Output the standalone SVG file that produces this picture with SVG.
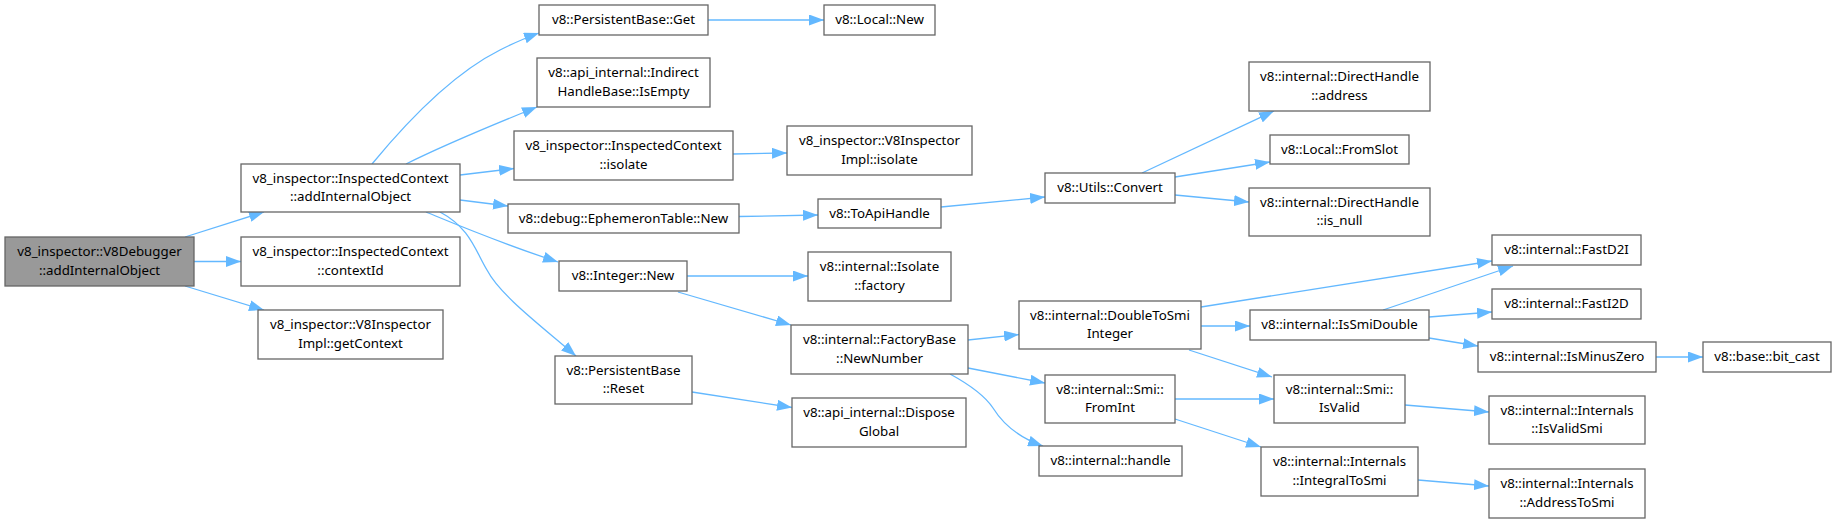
<svg xmlns="http://www.w3.org/2000/svg" width="1836" height="523" viewBox="0 0 1836 523">
<style>
.n rect{fill:#fff;stroke:#666;stroke-width:1.3}
.root rect{fill:#999}
.n text{font-family:"Noto Sans","DejaVu Sans",sans-serif;font-size:13.3px;fill:#000;text-anchor:middle}
.e path{fill:none;stroke:#63b8ff;stroke-width:1.3}
</style>
<defs>
<marker id="ah" markerUnits="userSpaceOnUse" markerWidth="15" markerHeight="11" refX="15" refY="5.5" orient="auto">
<path d="M0,0 L15,5.5 L0,11 z" fill="#63b8ff"/>
</marker>
</defs>
<g id="edges" class="e" marker-end="url(#ah)">
<path d="M185,237 L264,212" marker-end="url(#ah)"/>
<path d="M194,261.5 L241,261.5" marker-end="url(#ah)"/>
<path d="M185,286 L264,310" marker-end="url(#ah)"/>
<path d="M372,164 C400,130 450,75 500,50 C512,44 525,38 539,33" marker-end="url(#ah)"/>
<path d="M406,164 C440,147 490,126 537,107" marker-end="url(#ah)"/>
<path d="M460,175 L514,168.5" marker-end="url(#ah)"/>
<path d="M460,200 L508,206" marker-end="url(#ah)"/>
<path d="M426,212 C460,226 500,243 558,262" marker-end="url(#ah)"/>
<path d="M440,212 C470,228 475,250 487,270 C500,295 540,325 576,356" marker-end="url(#ah)"/>
<path d="M708,20 L824,20" marker-end="url(#ah)"/>
<path d="M733,154 L787,153" marker-end="url(#ah)"/>
<path d="M739,216.5 L818,215" marker-end="url(#ah)"/>
<path d="M687,276 L808,276" marker-end="url(#ah)"/>
<path d="M678,292 L791,325" marker-end="url(#ah)"/>
<path d="M692,392 L792,407.5" marker-end="url(#ah)"/>
<path d="M941,207 L1045,197" marker-end="url(#ah)"/>
<path d="M1142,173 L1274,111" marker-end="url(#ah)"/>
<path d="M1175,177 L1270,162" marker-end="url(#ah)"/>
<path d="M1175,195 L1249,202" marker-end="url(#ah)"/>
<path d="M968,340 L1019,334.5" marker-end="url(#ah)"/>
<path d="M968,368 L1045,383" marker-end="url(#ah)"/>
<path d="M950,374 C972,386 985,396 993,408 C1003,424 1020,438 1043,446" marker-end="url(#ah)"/>
<path d="M1201,307 L1492,261" marker-end="url(#ah)"/>
<path d="M1201,326 L1250,326" marker-end="url(#ah)"/>
<path d="M1189,350 L1272,377" marker-end="url(#ah)"/>
<path d="M1175,399 L1274,399" marker-end="url(#ah)"/>
<path d="M1175,419 L1261,447" marker-end="url(#ah)"/>
<path d="M1383,310 L1513,266" marker-end="url(#ah)"/>
<path d="M1429,317 L1492,312" marker-end="url(#ah)"/>
<path d="M1429,338 L1478,346" marker-end="url(#ah)"/>
<path d="M1656,357 L1703,357" marker-end="url(#ah)"/>
<path d="M1405,405 L1489,412" marker-end="url(#ah)"/>
<path d="M1418,480 L1489,486" marker-end="url(#ah)"/>
</g>
<g id="n0" class="n root"><rect x="5" y="237" width="189" height="49"/><text x="99.5" y="256">v8_inspector::V8Debugger</text><text x="99.5" y="275">::addInternalObject</text></g>
<g id="n1" class="n"><rect x="241" y="164" width="219" height="48"/><text x="350.5" y="183">v8_inspector::InspectedContext</text><text x="350.5" y="201">::addInternalObject</text></g>
<g id="n2" class="n"><rect x="241" y="237" width="219" height="49"/><text x="350.5" y="256">v8_inspector::InspectedContext</text><text x="350.5" y="275">::contextId</text></g>
<g id="n3" class="n"><rect x="258" y="310" width="185" height="49"/><text x="350.5" y="329">v8_inspector::V8Inspector</text><text x="350.5" y="348">Impl::getContext</text></g>
<g id="n4" class="n"><rect x="539" y="5" width="169" height="30"/><text x="623.5" y="24">v8::PersistentBase::Get</text></g>
<g id="n5" class="n"><rect x="824" y="5" width="111" height="30"/><text x="879.5" y="24">v8::Local::New</text></g>
<g id="n6" class="n"><rect x="537" y="58" width="173" height="49"/><text x="623.5" y="77">v8::api_internal::Indirect</text><text x="623.5" y="96">HandleBase::IsEmpty</text></g>
<g id="n7" class="n"><rect x="514" y="131" width="219" height="49"/><text x="623.5" y="150">v8_inspector::InspectedContext</text><text x="623.5" y="169">::isolate</text></g>
<g id="n8" class="n"><rect x="787" y="126" width="185" height="49"/><text x="879.5" y="145">v8_inspector::V8Inspector</text><text x="879.5" y="164">Impl::isolate</text></g>
<g id="n9" class="n"><rect x="508" y="204" width="231" height="29"/><text x="623.5" y="222.5">v8::debug::EphemeronTable::New</text></g>
<g id="n10" class="n"><rect x="818" y="199" width="123" height="29"/><text x="879.5" y="217.5">v8::ToApiHandle</text></g>
<g id="n11" class="n"><rect x="559" y="261" width="128" height="30"/><text x="623" y="280">v8::Integer::New</text></g>
<g id="n12" class="n"><rect x="808" y="252" width="143" height="49"/><text x="879.5" y="271">v8::internal::Isolate</text><text x="879.5" y="290">::factory</text></g>
<g id="n13" class="n"><rect x="791" y="325" width="177" height="49"/><text x="879.5" y="344">v8::internal::FactoryBase</text><text x="879.5" y="363">::NewNumber</text></g>
<g id="n14" class="n"><rect x="555" y="356" width="137" height="48"/><text x="623.5" y="375">v8::PersistentBase</text><text x="623.5" y="393">::Reset</text></g>
<g id="n15" class="n"><rect x="792" y="398" width="174" height="49"/><text x="879" y="417">v8::api_internal::Dispose</text><text x="879" y="436">Global</text></g>
<g id="n16" class="n"><rect x="1045" y="173" width="130" height="30"/><text x="1110" y="192">v8::Utils::Convert</text></g>
<g id="n17" class="n"><rect x="1249" y="62" width="181" height="49"/><text x="1339.5" y="81">v8::internal::DirectHandle</text><text x="1339.5" y="100">::address</text></g>
<g id="n18" class="n"><rect x="1270" y="135" width="139" height="29"/><text x="1339.5" y="153.5">v8::Local::FromSlot</text></g>
<g id="n19" class="n"><rect x="1249" y="188" width="181" height="48"/><text x="1339.5" y="207">v8::internal::DirectHandle</text><text x="1339.5" y="225">::is_null</text></g>
<g id="n20" class="n"><rect x="1019" y="301" width="182" height="48"/><text x="1110" y="320">v8::internal::DoubleToSmi</text><text x="1110" y="338">Integer</text></g>
<g id="n21" class="n"><rect x="1045" y="375" width="130" height="48"/><text x="1110" y="394">v8::internal::Smi::</text><text x="1110" y="412">FromInt</text></g>
<g id="n22" class="n"><rect x="1039" y="446" width="143" height="30"/><text x="1110.5" y="465">v8::internal::handle</text></g>
<g id="n23" class="n"><rect x="1250" y="310" width="179" height="30"/><text x="1339.5" y="329">v8::internal::IsSmiDouble</text></g>
<g id="n24" class="n"><rect x="1274" y="375" width="131" height="48"/><text x="1339.5" y="394">v8::internal::Smi::</text><text x="1339.5" y="412">IsValid</text></g>
<g id="n25" class="n"><rect x="1261" y="447" width="157" height="49"/><text x="1339.5" y="466">v8::internal::Internals</text><text x="1339.5" y="485">::IntegralToSmi</text></g>
<g id="n26" class="n"><rect x="1492" y="235" width="149" height="30"/><text x="1566.5" y="254">v8::internal::FastD2I</text></g>
<g id="n27" class="n"><rect x="1492" y="289" width="149" height="30"/><text x="1566.5" y="308">v8::internal::FastI2D</text></g>
<g id="n28" class="n"><rect x="1478" y="342" width="178" height="30"/><text x="1567" y="361">v8::internal::IsMinusZero</text></g>
<g id="n29" class="n"><rect x="1703" y="342" width="128" height="30"/><text x="1767" y="361">v8::base::bit_cast</text></g>
<g id="n30" class="n"><rect x="1489" y="396" width="156" height="48"/><text x="1567" y="415">v8::internal::Internals</text><text x="1567" y="433">::IsValidSmi</text></g>
<g id="n31" class="n"><rect x="1489" y="469" width="156" height="49"/><text x="1567" y="488">v8::internal::Internals</text><text x="1567" y="507">::AddressToSmi</text></g>
</svg>
